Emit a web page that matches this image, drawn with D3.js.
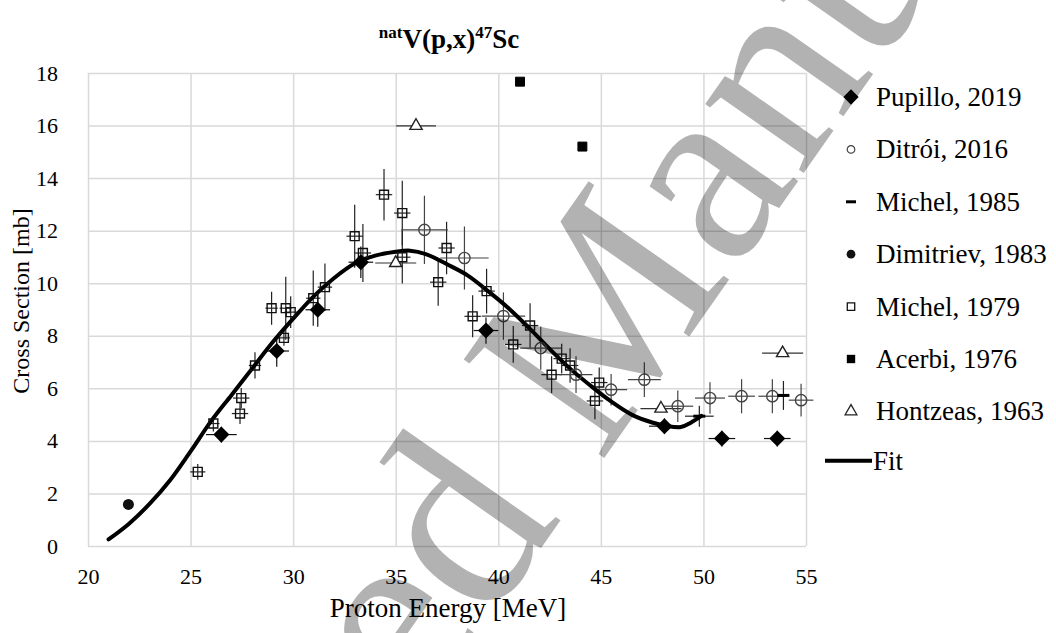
<!DOCTYPE html>
<html>
<head>
<meta charset="utf-8">
<script src="https://cdn.jsdelivr.net/npm/d3@7"></script>
</head>
<body style="margin:0;background:#fff">
<svg id="chart" width="1056" height="633" font-family="Liberation Serif"></svg>
<script>
// natV(p,x)47Sc excitation function: energies in MeV, cross sections in mb

// Pupillo, 2019
const pupilloE   = [26.5, 29.2, 31.2, 33.3, 39.4, 48.1, 50.9, 53.6];
const pupilloXS  = [4.24, 7.42, 8.99, 10.8, 8.2, 4.56, 4.09, 4.09];
const pupilloDE  = [0.75, 0.6, 0.6, 0.6, 0.6, 0.75, 0.65, 0.65];
const pupilloDXS = [0.3, 0.6, 0.65, 0.6, 0.5, 0.3, 0.3, 0.3];

// Ditrói, 2016
const ditroiE   = [36.4, 38.35, 40.25, 42.07, 43.79, 45.5, 47.12, 48.75, 50.32, 51.86, 53.36, 54.76];
const ditroiXS  = [12.03, 10.96, 8.75, 7.53, 6.52, 5.95, 6.33, 5.32, 5.63, 5.7, 5.7, 5.55];
const ditroiDE  = [1.14, 1.18, 1.06, 1.0, 0.8, 0.78, 0.8, 0.75, 0.73, 0.65, 0.68, 0.6];
const ditroiDXS = [1.3, 1.2, 0.9, 0.82, 0.7, 0.6, 0.66, 0.6, 0.6, 0.65, 0.65, 0.62];

// Michel, 1985
const michel85E   = [49.8, 53.9];
const michel85XS  = [4.94, 5.73];
const michel85DE  = [0.7, 0.0];
const michel85DXS = [0.4, 0.55];

// Dimitriev, 1983
const dimitrievE  = [21.97];
const dimitrievXS = [1.58];

// Michel, 1979
const michel79E   = [25.35, 26.11, 27.41, 27.47, 28.14, 28.95, 29.64, 29.88, 29.55, 30.98, 31.55, 33.0, 33.4, 34.43, 35.32, 35.32, 37.48, 37.07, 39.43, 38.75, 41.55, 40.73, 43.09, 43.5, 42.6, 44.92, 44.71];
const michel79XS  = [2.82, 4.66, 5.04, 5.63, 6.87, 9.05, 9.05, 8.9, 7.92, 9.43, 9.85, 11.79, 11.15, 13.37, 12.67, 10.99, 11.34, 10.04, 9.7, 8.74, 8.39, 7.67, 7.13, 6.87, 6.52, 6.22, 5.52];
const michel79DE  = [0.37, 0.3, 0.4, 0.4, 0.3, 0.3, 0.3, 0.3, 0.3, 0.35, 0.35, 0.4, 0.4, 0.4, 0.4, 0.4, 0.4, 0.4, 0.4, 0.4, 0.4, 0.4, 0.4, 0.4, 0.5, 0.4, 0.4];
const michel79DXS = [0.3, 0.3, 0.4, 0.38, 0.5, 0.63, 1.2, 0.6, 0.3, 1.05, 0.9, 1.2, 1.1, 0.98, 1.23, 1.0, 1.0, 0.9, 0.85, 0.8, 0.85, 0.7, 0.57, 0.66, 0.7, 0.57, 0.7];

// Acerbi, 1976
const acerbiE  = [41.06, 44.1];
const acerbiXS = [17.67, 15.2];

// Hontzeas, 1963
const hontzeasE  = [35.99, 35.0, 47.93, 53.86];
const hontzeasXS = [15.99, 10.77, 5.23, 7.34];
const hontzeasDE = [0.97, 1.0, 1.0, 1.0];

// Fit curve
const fitE  = [21.0, 22.0, 23.0, 24.0, 25.0, 26.0, 27.0, 28.0, 29.0, 30.0, 31.0, 32.0, 33.0, 34.0, 35.0, 35.7, 36.5, 37.5, 38.5, 39.5, 40.5, 41.5, 42.5, 43.5, 44.5, 45.5, 46.5, 47.5, 48.2, 48.9, 49.4, 49.9];
const fitXS = [0.25, 0.85, 1.6, 2.5, 3.6, 4.75, 5.75, 6.75, 7.75, 8.65, 9.5, 10.2, 10.75, 11.05, 11.2, 11.24, 11.1, 10.72, 10.3, 9.7, 9.05, 8.3, 7.5, 6.75, 6.1, 5.5, 5.0, 4.7, 4.57, 4.53, 4.7, 4.95];

// Axis ticks and labels
const xTicks = [20, 25, 30, 35, 40, 45, 50, 55];
const yTicks = [0, 2, 4, 6, 8, 10, 12, 14, 16, 18];
const legendLabels = ["Pupillo, 2019", "Ditrói, 2016", "Michel, 1985", "Dimitriev, 1983", "Michel, 1979", "Acerbi, 1976", "Hontzeas, 1963", "Fit"];

const FONT = "Liberation Serif";
const svg = d3.select("#chart");
const x = d3.scaleLinear().domain([20, 55]).range([88, 806]);
const y = d3.scaleLinear().domain([0, 18]).range([546, 73]);

const zip = (...cols) => cols[0].map((_, i) => cols.map(c => c[i]));

// gridlines
const grid = svg.append("g");
grid.append("g")
  .attr("transform", `translate(0,${y(0)})`)
  .call(d3.axisBottom(x).tickValues(xTicks).tickSize(-(y(0) - y(18))).tickFormat(""))
  .call(g => g.select(".domain").remove())
  .call(g => g.selectAll("line").attr("stroke", "#d9d9d9").attr("stroke-width", 1.5));
grid.append("g")
  .attr("transform", `translate(${x(20)},0)`)
  .call(d3.axisLeft(y).tickValues(yTicks).tickSize(-(x(55) - x(20))).tickFormat(""))
  .call(g => g.select(".domain").remove())
  .call(g => g.selectAll("line").attr("stroke", "#d9d9d9").attr("stroke-width", 1.5));

// tick labels
svg.append("g")
  .attr("transform", `translate(0,${y(0)})`)
  .call(d3.axisBottom(x).tickValues(xTicks).tickSize(0).tickPadding(22).tickFormat(d3.format("d")))
  .attr("font-family", FONT).attr("font-size", 22)
  .call(g => g.select(".domain").remove())
  .call(g => g.selectAll("text").attr("fill", "#000"));
svg.append("g")
  .attr("transform", `translate(${x(20)},0)`)
  .call(d3.axisLeft(y).tickValues(yTicks).tickSize(0).tickPadding(30).tickFormat(d3.format("d")))
  .attr("font-family", FONT).attr("font-size", 22)
  .call(g => g.select(".domain").remove())
  .call(g => g.selectAll("text").attr("fill", "#000"));

// axis titles
svg.append("text").attr("x", 448).attr("y", 617).attr("text-anchor", "middle")
  .attr("font-family", FONT).attr("font-size", 27).text("Proton Energy [MeV]");
svg.append("text").attr("transform", "translate(29,301) rotate(-90)").attr("text-anchor", "middle")
  .attr("font-family", FONT).attr("font-size", 24).text("Cross Section [mb]");

// chart title
const title = svg.append("text").attr("x", 449).attr("y", 48).attr("text-anchor", "middle")
  .attr("font-family", FONT).attr("font-size", 27).attr("font-weight", "bold");
title.append("tspan").attr("font-size", 17).attr("dy", -10).text("nat");
title.append("tspan").attr("dy", 10).text("V(p,x)");
title.append("tspan").attr("font-size", 17).attr("dy", -10).text("47");
title.append("tspan").attr("dy", 10).text("Sc");

// error bars
const bars = svg.append("g").attr("stroke-width", 1.2);
function errorBars(E, XS, DE, DXS, color) {
  E.forEach((e, i) => {
    const dx = DE ? DE[i] : 0, dy = DXS ? DXS[i] : 0;
    if (dx > 0) bars.append("line").attr("stroke", color)
      .attr("x1", x(e - dx)).attr("x2", x(e + dx)).attr("y1", y(XS[i])).attr("y2", y(XS[i]));
    if (dy > 0) bars.append("line").attr("stroke", color)
      .attr("x1", x(e)).attr("x2", x(e)).attr("y1", y(XS[i] - dy)).attr("y2", y(XS[i] + dy));
  });
}
errorBars(michel79E, michel79XS, michel79DE, michel79DXS, "#222");
errorBars(ditroiE, ditroiXS, ditroiDE, ditroiDXS, "#444");
errorBars(hontzeasE, hontzeasXS, hontzeasDE, null, "#333");
errorBars(michel85E, michel85XS, michel85DE, michel85DXS, "#222");
errorBars(pupilloE, pupilloXS, pupilloDE, pupilloDXS, "#111");

// fit line
svg.append("path")
  .datum(zip(fitE, fitXS))
  .attr("fill", "none").attr("stroke", "#000").attr("stroke-width", 4).attr("stroke-linecap", "round")
  .attr("d", d3.line().x(d => x(d[0])).y(d => y(d[1])).curve(d3.curveCatmullRom.alpha(0.5)));

// marker shapes
const sym = {
  diamond: d3.symbol().type(d3.symbolDiamond2).size(165),
  circle: d3.symbol().type(d3.symbolCircle).size(100),
  dot: d3.symbol().type(d3.symbolCircle).size(95),
  square: d3.symbol().type(d3.symbolSquare).size(80),
  triangle: d3.symbol().type(d3.symbolTriangle).size(65)
};
const marks = svg.append("g");
function drawPoints(E, XS, path, fill, stroke, sw) {
  marks.append("g").selectAll("path").data(zip(E, XS)).join("path")
    .attr("transform", d => `translate(${x(d[0])},${y(d[1])})`)
    .attr("d", path).attr("fill", fill).attr("stroke", stroke).attr("stroke-width", sw);
}
drawPoints(michel79E, michel79XS, sym.square(), "none", "#111", 1.4);
drawPoints(ditroiE, ditroiXS, sym.circle(), "none", "#444", 1.4);
drawPoints(hontzeasE, hontzeasXS, sym.triangle(), "#fff", "#222", 1.4);
drawPoints(acerbiE, acerbiXS, sym.square(), "#000", "#000", 1);
drawPoints(dimitrievE, dimitrievXS, sym.dot(), "#111", "none", 0);
drawPoints(pupilloE, pupilloXS, sym.diamond(), "#000", "none", 0);
marks.append("g").selectAll("line").data(zip(michel85E, michel85XS)).join("line")
  .attr("x1", d => x(d[0]) - 6).attr("x2", d => x(d[0]) + 6)
  .attr("y1", d => y(d[1])).attr("y2", d => y(d[1]))
  .attr("stroke", "#000").attr("stroke-width", 3);

// legend
const legend = svg.append("g");
const legendY = i => 97 + i * 52.4;
const lx = 851;
legend.append("path").attr("transform", `translate(${lx},${legendY(0)})`).attr("d", d3.symbol().type(d3.symbolDiamond2).size(150)()).attr("fill", "#000");
legend.append("path").attr("transform", `translate(${lx},${legendY(1)})`).attr("d", d3.symbol().type(d3.symbolCircle).size(45)()).attr("fill", "none").attr("stroke", "#444").attr("stroke-width", 1.2);
legend.append("line").attr("x1", lx - 5).attr("x2", lx + 5).attr("y1", legendY(2)).attr("y2", legendY(2)).attr("stroke", "#000").attr("stroke-width", 3);
legend.append("path").attr("transform", `translate(${lx},${legendY(3)})`).attr("d", d3.symbol().type(d3.symbolCircle).size(60)()).attr("fill", "#111");
legend.append("path").attr("transform", `translate(${lx},${legendY(4)})`).attr("d", d3.symbol().type(d3.symbolSquare).size(55)()).attr("fill", "none").attr("stroke", "#111").attr("stroke-width", 1.3);
legend.append("path").attr("transform", `translate(${lx},${legendY(5)})`).attr("d", d3.symbol().type(d3.symbolSquare).size(70)()).attr("fill", "#000");
legend.append("path").attr("transform", `translate(${lx},${legendY(6)})`).attr("d", d3.symbol().type(d3.symbolTriangle).size(60)()).attr("fill", "none").attr("stroke", "#222").attr("stroke-width", 1.3);
legend.append("line").attr("x1", 825).attr("x2", 872).attr("y1", legendY(7) - 3).attr("y2", legendY(7) - 3).attr("stroke", "#000").attr("stroke-width", 4);
legend.selectAll("text").data(legendLabels).join("text")
  .attr("x", (d, i) => i === 7 ? 873 : 876)
  .attr("y", (d, i) => legendY(i) + (i === 7 ? -3 : 0))
  .attr("dy", "0.33em")
  .attr("font-family", FONT)
  .attr("font-size", 27)
  .text(d => d);

// watermark
svg.append("text")
  .attr("transform", "translate(-5,1328) rotate(-55)")
  .attr("font-family", FONT)
  .attr("font-size", 262)
  .attr("fill", "#000").attr("fill-opacity", 0.3)
  .text("Accepted Manuscript");
</script>
</body>
</html>
